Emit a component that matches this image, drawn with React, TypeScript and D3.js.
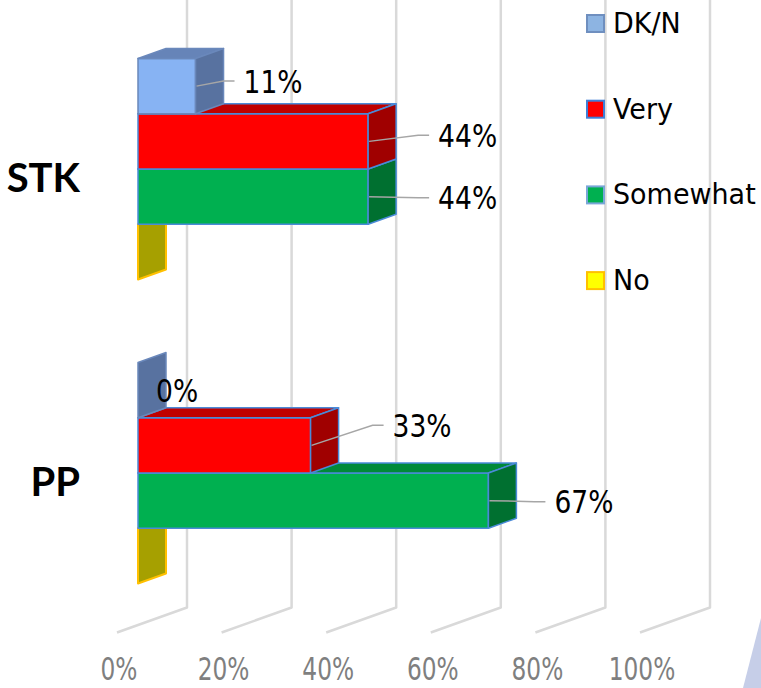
import React from "react";
import * as d3 from "d3";

const categories = ["STK", "PP"];
const seriesNames = ["DK/N", "Very", "Somewhat", "No"];
const dknValues = [11, 0];
const veryValues = [44, 33];
const somewhatValues = [44, 67];
const noValues = [0, 0];
const tickValues = [0, 20, 40, 60, 80, 100];
const tickLabels = ["0%", "20%", "40%", "60%", "80%", "100%"];

// styling
const seriesFront = ["#87b3f3", "#ff0000", "#00b050", "#ffff00"];
const seriesTop = ["#6684b8", "#c00000", "#008a38", "#c8c800"];
const seriesSide = ["#5872a0", "#a00000", "#007030", "#a6a000"];
const seriesStroke = ["#6a88bb", "#4a8ad8", "#4a8ad8", "#ffc000"];
const legendFill = ["#8db4e2", "#ff0000", "#00b050", "#ffff00"];
const legendStroke = ["#6f8fbf", "#3f7fd8", "#7aa6d8", "#ffc000"];
// label placement offsets (dx from bar end, dy from bar middle); null = hidden
const labelOffsets: (number[] | null)[][] = [
  [[48, -5], [70, -6], [70, 1], null],
  [[18, 0], [82, -20], [66, 1], null],
];

const W = 761;
const H = 688;
const DEPTH = { dx: 70, dy: -25 };
const BAR_FRONT = 0.3;
const BAR_DEPTH = 0.4;

export default function App() {
  const values = [dknValues, veryValues, somewhatValues, noValues];
  const x = d3.scaleLinear().domain([0, 100]).range([138, 661]);
  const yCat = d3
    .scaleBand<string>()
    .domain(categories)
    .range([17, 625])
    .paddingInner(0.273)
    .paddingOuter(0.1365);
  const ySer = d3
    .scaleBand<string>()
    .domain(seriesNames)
    .range([0, yCat.bandwidth()]);

  const bdx = DEPTH.dx * BAR_DEPTH;
  const bdy = DEPTH.dy * BAR_DEPTH;
  const wallDx = DEPTH.dx * (1 - BAR_FRONT);
  const wallDy = DEPTH.dy * (1 - BAR_FRONT);
  const floorDx = -DEPTH.dx * BAR_FRONT;
  const floorDy = -DEPTH.dy * BAR_FRONT;
  const yFloor = yCat.range()[1];

  const pts = (p: number[][]) => p.map((q) => q.join(",")).join(" ");

  const boxes: React.ReactNode[] = [];
  const labels: React.ReactNode[] = [];
  categories.forEach((cat, ci) => {
    const order = [3, 2, 1, 0];
    order.forEach((si) => {
      const v = values[si][ci];
      const x0 = x(0);
      const x1 = x(v);
      const y0 = yCat(cat)! + ySer(seriesNames[si])!;
      const y1 = y0 + ySer.bandwidth();
      const key = `${ci}-${si}`;
      const stroke = seriesStroke[si];
      const sw = si === 3 ? 2 : 1.5;
      if (x1 - x0 > 0.5) {
        boxes.push(
          <rect key={key + "f"} x={x0} y={y0} width={x1 - x0} height={y1 - y0}
            fill={seriesFront[si]} stroke={stroke} strokeWidth={sw} strokeLinejoin="round" />
        );
        boxes.push(
          <polygon key={key + "t"}
            points={pts([[x0, y0], [x1, y0], [x1 + bdx, y0 + bdy], [x0 + bdx, y0 + bdy]])}
            fill={seriesTop[si]} stroke={stroke} strokeWidth={sw} strokeLinejoin="round" />
        );
      }
      boxes.push(
        <polygon key={key + "s"}
          points={pts([[x1, y0], [x1 + bdx, y0 + bdy], [x1 + bdx, y1 + bdy], [x1, y1]])}
          fill={seriesSide[si]} stroke={stroke} strokeWidth={sw} strokeLinejoin="round" />
      );
      const off = labelOffsets[ci][si];
      if (off) {
        const ym = (y0 + y1) / 2;
        const lx = x1 + off[0];
        const ly = ym + off[1];
        if (off[0] > 30) {
          labels.push(
            <polyline key={key + "l"}
              points={pts([[x1 + 1, ym], [lx - 20, ly], [lx - 9, ly]])}
              fill="none" stroke="#a6a6a6" strokeWidth={1.5} />
          );
        }
        labels.push(
          <text key={key + "x"} transform={`translate(${lx},${ly + 11.5}) scale(0.83,1)`}
            fontFamily="DejaVu Sans" fontSize={32} fill="#000">
            {`${v}%`}
          </text>
        );
      }
    });
  });

  return (
    <svg width={W} height={H} style={{ position: "absolute", left: 0, top: 0 }}>
      <rect x={0} y={0} width={W} height={H} fill="#fff" />
      {tickValues.map((t) => {
        const xb = x(t) + wallDx;
        const yb = yFloor + wallDy;
        const xf = x(t) + floorDx;
        const yf = yFloor + floorDy;
        return (
          <polyline key={"g" + t} points={pts([[xb, 0], [xb, yb], [xf, yf]])}
            fill="none" stroke="#d9d9d9" strokeWidth={2.5} strokeLinejoin="round" />
        );
      })}
      {tickValues.map((t, i) => (
        <text key={"tl" + t}
          transform={`translate(${x(t) + floorDx + 2},680) scale(0.74,1)`}
          textAnchor="middle" fontFamily="DejaVu Sans" fontSize={31.5} fill="#7f7f7f">
          {tickLabels[i]}
        </text>
      ))}
      {boxes}
      {labels}
      {categories.map((c) => (
        <text key={"c" + c} x={80} y={yCat(c)! + yCat.bandwidth() / 2 + 23}
          textAnchor="end" fontFamily="Lato" fontWeight="bold" fontSize={40} fill="#000">
          {c}
        </text>
      ))}
      {seriesNames.map((s, i) => {
        const yb = 33 + i * 85.7;
        return (
          <g key={"lg" + s}>
            <rect x={587} y={yb - 18} width={17} height={17} fill={legendFill[i]}
              stroke={legendStroke[i]} strokeWidth={2} />
            <text transform={`translate(613,${yb}) scale(0.93,1)`} fontFamily="DejaVu Sans"
              fontSize={29} fill="#000">
              {s}
            </text>
          </g>
        );
      })}
      <polygon points={pts([[761, 618], [743, 688], [761, 688]])} fill="#c6cee8" />
    </svg>
  );
}
